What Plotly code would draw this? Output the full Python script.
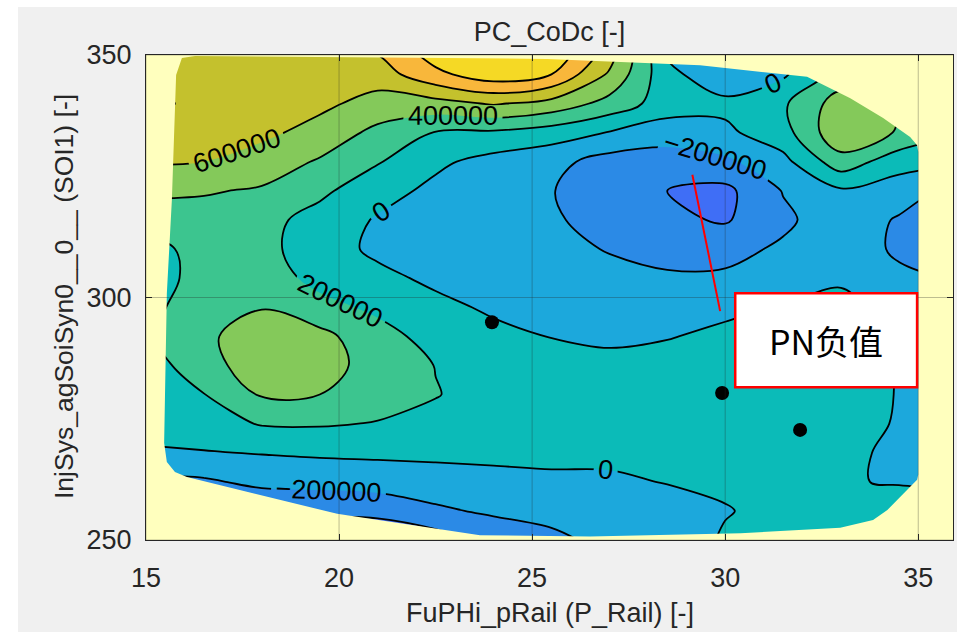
import numpy as np
import plotly.graph_objects as go

# ---------------- data ----------------
x_grid = [15, 16.5, 18, 19.5, 21, 22.5, 24, 25.5, 27, 28.5, 30, 31.5, 33, 34.5, 36]
y_grid = [250, 256, 262, 268, 274, 280, 286, 292, 298, 304, 310, 316, 322, 328, 334, 340, 346, 352]

# PC_CoDc in thousands, one list per x_grid column, from y=250 (bottom) to y=352 (top)
z_k_columns = [
    [-500, -400, -250, -20, 60, 120, 110, 170, 130, 90, 110, 300, 440, 620, 760, 830, 760, 720],      # 15
    [-550, -420, -230, -10, 110, 195, 310, 360, 330, 280, 290, 330, 415, 600, 720, 770, 740, 720],    # 16.5
    [-600, -380, -150, 10, 215, 420, 530, 510, 390, 300, 260, 260, 380, 500, 650, 740, 770, 780],     # 18
    [-620, -350, -140, 30, 220, 400, 470, 460, 260, 140, 90, 130, 240, 380, 520, 650, 740, 790],      # 19.5
    [-600, -330, -120, 40, 190, 290, 330, 270, 160, 50, -40, -20, 80, 215, 350, 520, 700, 850],       # 21
    [-500, -230, -100, 50, 150, 208, 195, 130, 50, -40, -90, -70, -50, 40, 190, 530, 950, 1150],      # 22.5
    [-330, -170, -50, 40, 100, 130, 110, 50, -30, -100, -140, -150, -120, -70, 170, 620, 1120, 1350], # 24
    [-250, -130, -30, 40, 80, 90, 70, -5, -60, -110, -150, -180, -195, -140, 100, 530, 1000, 1200],   # 25.5
    [-140, -80, -20, 30, 60, 60, 30, -20, -80, -150, -210, -260, -270, -280, -10, 330, 570, 760],     # 27
    [-100, -50, 5, 40, 60, 55, 35, -5, -90, -180, -250, -360, -400, -300, -100, 100, 60, -60],        # 28.5
    [20, -10, 30, 60, 80, 70, 45, 20, -20, -170, -260, -420, -450, -240, -40, 50, -150, -280],        # 30
    [30, 50, 60, 70, 70, 60, 45, 25, 5, -70, -170, -240, -190, -60, 120, 170, -30, -150],             # 31.5
    [30, 30, 5, 30, 50, 50, 40, 25, 20, -10, -60, -80, -30, 320, 560, 500, 280, 200],                 # 33
    [60, 40, -5, -26, -10, -5, -5, -10, -30, -150, -240, -220, -100, 80, 380, 420, 300, 250],         # 34.5
    [80, 50, -20, -60, -80, -60, -50, -60, -100, -220, -300, -300, -260, 20, 220, 320, 300, 250],     # 36
]

# contour levels and the fill colour of each band (below first level ... above last level)
level_start = -400000
level_end = 1000000
level_step = 200000
band_colors = ["#3f6ef6", "#2b8ae6", "#1ca8dc", "#0bbbb8", "#3cc58f",
               "#84c95a", "#c4c12d", "#f8b73b", "#f5d925"]

# boundary of the modelled region (outside is left pale yellow)
hull_x = [15.93, 16.27, 18.99, 25.39, 29.35, 31.68, 32.12, 33.24, 34.09, 34.79, 34.97, 35.0,
          35.0, 34.97, 34.2, 33.83, 32.98, 30.4, 26.5, 23.65, 19.95, 16.06, 15.75, 15.54,
          15.47, 15.49, 15.54, 15.67, 15.73, 15.78]
hull_y = [349.4, 349.8, 349.6, 349.2, 347.9, 345.9, 345.5, 341.1, 337.0, 333.1, 331.4, 330.0,
          263.5, 262.4, 256.2, 254.1, 252.5, 251.4, 250.7, 251.0, 255.4, 263.0, 264.0, 266.1,
          270.0, 278.9, 300.9, 320.1, 336.6, 345.9]

# measured points
pt_x = [23.96, 29.92, 31.94]
pt_y = [294.9, 280.3, 272.7]

x_ticks = [15, 20, 25, 30, 35]
y_ticks = [250, 300, 350]
x_range = [15, 35.9]
y_range = [250, 350]

callout_text = "PN负值"
callout_box_x = [30.26, 34.97]
callout_box_y = [281.5, 300.9]
callout_line_x = [29.15, 29.87]
callout_line_y = [325.3, 297.2]

# ---------------- figure ----------------
z = (np.array(z_k_columns, dtype=float).T * 1000.0)

n = len(band_colors) - 1
colorscale = [[i / n, c] for i, c in enumerate(band_colors)]

FONT = "Liberation Sans, Arial, Helvetica, sans-serif"
TXT = "#262626"
YELLOW = "#ffffbe"

fig = go.Figure()

fig.add_trace(go.Contour(
    x=x_grid, y=y_grid, z=z,
    autocontour=False,
    contours=dict(start=level_start, end=level_end, size=level_step,
                  coloring="fill", showlabels=True, labelformat=".0f",
                  labelfont=dict(family=FONT, size=27, color="black")),
    colorscale=colorscale, showscale=False,
    line=dict(color="black", width=1.8, smoothing=1.0),
    hoverinfo="skip",
))

# pale-yellow mask outside the hull (outer rectangle with the hull cut out)
ox = [x_range[0] - 1, x_range[0] - 1, x_range[1] + 1, x_range[1] + 1, x_range[0] - 1]
oy = [y_range[1] + 1, y_range[0] - 1, y_range[0] - 1, y_range[1] + 1, y_range[1] + 1]
mask_x = ox + hull_x + [hull_x[0], ox[0]]
mask_y = oy + hull_y + [hull_y[0], oy[0]]
fig.add_trace(go.Scatter(x=mask_x, y=mask_y, mode="lines", fill="toself",
                         fillcolor=YELLOW, line=dict(width=0, color=YELLOW),
                         hoverinfo="skip", showlegend=False))

fig.add_trace(go.Scatter(x=pt_x, y=pt_y, mode="markers",
                         marker=dict(color="black", size=14),
                         hoverinfo="skip", showlegend=False))

shapes = []
for xv in x_ticks:
    shapes.append(dict(type="line", xref="x", yref="y", x0=xv, x1=xv, y0=y_range[0], y1=y_range[1],
                       line=dict(color="rgba(38,38,38,0.3)", width=1), layer="above"))
for yv in y_ticks:
    shapes.append(dict(type="line", xref="x", yref="y", x0=x_range[0], x1=x_range[1], y0=yv, y1=yv,
                       line=dict(color="rgba(38,38,38,0.3)", width=1), layer="above"))
shapes.append(dict(type="line", xref="x", yref="y",
                   x0=callout_line_x[0], y0=callout_line_y[0], x1=callout_line_x[1], y1=callout_line_y[1],
                   line=dict(color="#ff0000", width=2), layer="above"))
shapes.append(dict(type="rect", xref="x", yref="y",
                   x0=callout_box_x[0], x1=callout_box_x[1], y0=callout_box_y[0], y1=callout_box_y[1],
                   fillcolor="white", line=dict(color="#ff0000", width=2.5), layer="above"))
# white page border around the grey figure background
W, H = 961, 632
L, R, T, B = 146, 8, 55, 92
pw, ph = W - L - R, H - T - B
def px2pap_x(px):
    return (px - L) / pw
def py2pap_y(py):
    return (H - B - py) / ph
for (a, b, c, d) in [(0, 18, 0, H), (0, W, 0, 7), (957, W, 0, H)]:
    shapes.append(dict(type="rect", xref="paper", yref="paper",
                       x0=px2pap_x(a), x1=px2pap_x(b), y0=py2pap_y(d), y1=py2pap_y(c),
                       fillcolor="white", line=dict(width=0), layer="below"))

annotations = [
    dict(x=sum(callout_box_x) / 2, y=sum(callout_box_y) / 2, xref="x", yref="y",
         text=callout_text, showarrow=False,
         font=dict(family="Noto Sans CJK SC", size=34, color="black")),
    dict(x=0.5, y=py2pap_y(613), xref="paper", yref="paper", text="FuPHi_pRail (P_Rail) [-]",
         showarrow=False, yanchor="middle", font=dict(family=FONT, size=27, color=TXT)),
    dict(x=px2pap_x(64), y=py2pap_y(297), xref="paper", yref="paper",
         text="InjSys_agSoiSyn0__0__ (SOI1) [-]", textangle=-90,
         showarrow=False, xanchor="center", yanchor="middle", font=dict(family=FONT, size=26.5, color=TXT)),
]

axis_common = dict(showgrid=False, zeroline=False, showline=True, mirror="ticks",
                   linecolor=TXT, linewidth=1.2, ticks="inside", ticklen=6, tickcolor=TXT,
                   tickfont=dict(family=FONT, size=27, color=TXT), layer="above traces")

fig.update_layout(
    width=W, height=H,
    margin=dict(l=L, r=R, t=T, b=B),
    paper_bgcolor="#f0f0f0", plot_bgcolor=YELLOW,
    showlegend=False,
    title=dict(text="PC_CoDc [-]", x=0.5, xref="paper", xanchor="center",
               y=1 - 32 / H, yref="container", yanchor="middle",
               font=dict(family=FONT, size=27, color=TXT)),
    xaxis=dict(range=x_range, tickvals=x_ticks, ticklabelstandoff=13, **axis_common),
    yaxis=dict(range=y_range, tickvals=y_ticks, ticklabelstandoff=8, **axis_common),
    shapes=shapes,
    annotations=annotations,
)

fig.write_html("out.html")
